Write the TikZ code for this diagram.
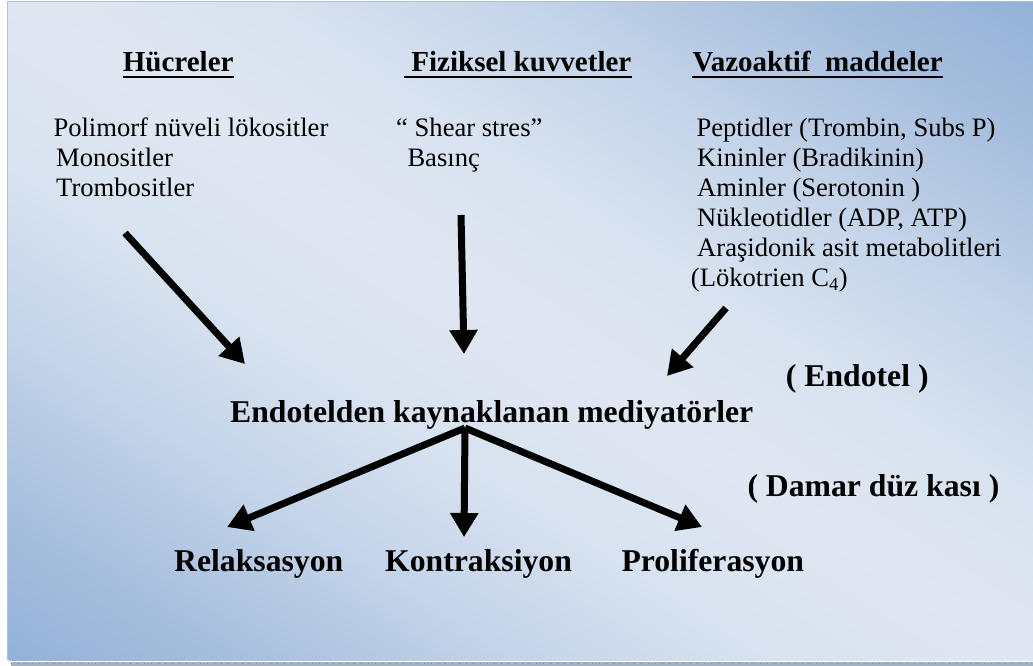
\documentclass[tikz,border=0pt]{standalone}
\usepackage{fontspec}
\setmainfont{Liberation Serif}
\usetikzlibrary{arrows.meta}
\definecolor{pA}{HTML}{93B1D7}
\definecolor{pB}{HTML}{A9C0DE}
\definecolor{pC}{HTML}{C4D4E9}
\definecolor{pD}{HTML}{D8E2F0}
\definecolor{pE}{HTML}{DFE7F2}
\definecolor{panelblue}{HTML}{93B1D7}
\definecolor{stripgray}{HTML}{A3B1C4}
\definecolor{stripdark}{HTML}{7D8CA3}
\pgfdeclareverticalshading{panelshade}{100bp}{%
  color(0bp)=(pA); color(25bp)=(pA); color(31.25bp)=(pB); color(37.5bp)=(pC);
  color(43.75bp)=(pD); color(50bp)=(pE); color(56.25bp)=(pD); color(62.5bp)=(pC);
  color(68.75bp)=(pB); color(75bp)=(pA); color(100bp)=(pA)}
\tikzset{
  txt/.style={inner sep=0pt, anchor=base west, font=\fontsize{26.6}{30}\selectfont},
  head/.style={inner sep=0pt, anchor=base west, font=\fontsize{29}{33}\selectfont\bfseries},
  big/.style={inner sep=0pt, anchor=base west, font=\fontsize{31.7}{36}\selectfont\bfseries},
  ul/.style={line width=2.2pt},
  fat/.style={line width=7pt, -{Triangle[width=27pt,length=24pt]}}
}
\begin{document}
\begin{tikzpicture}[x=1pt,y=-1pt]
\useasboundingbox (0,0) rectangle (1033,666);
\fill[white] (0,0) rectangle (1033,666);
% panel background: diagonal gradient, blue at top-right and bottom-left corners
\begin{scope}
  \clip (7,1.5) rectangle (1033,660);
  \begin{scope}[transform canvas={shift={(520,330.75)}, rotate=-32.8}]
    \shade[shading=panelshade] (-800,-554) rectangle (800,554);
  \end{scope}
\end{scope}
\draw[line width=0.8pt, color=panelblue!80] (7,1.5) -- (7,660);
\draw[line width=0.8pt, color=panelblue!80] (7,1.5) -- (1033,1.5);
% bottom strip
\fill[stripgray] (11,661.5) rectangle (1033,666);
\draw[stripdark, line width=0.8pt, dash pattern=on 1pt off 6pt] (11,663.5) -- (1033,663.5);

% headings
\node[head] (h1) at (122.7,71.7) {Hücreler};
\node[head] (h2) at (404,71.7) {\ Fiziksel kuvvetler};
\node[head] (h3) at (692.3,71.7) {Vazoaktif\ \ maddeler};
\draw[ul] ([yshift=-5.6pt]h1.base west) -- ([yshift=-5.6pt]h1.base east);
\draw[ul] ([yshift=-5.6pt]h2.base west) -- ([yshift=-5.6pt]h2.base east);
\draw[ul] ([yshift=-5.6pt]h3.base west) -- ([yshift=-5.6pt]h3.base east);

% left column
\node[txt] (c1) at (53.3,136) {Polimorf nüveli lökositler};
\node[txt] (c2) at (56,166.3) {Monositler};
\node[txt] (c3) at (56,196.5) {Trombositler};

% middle column
\node[txt] (f1) at (396,136) {“ Shear stres”};
\node[txt] (f2) at (407.3,166.3) {Basınç};

% right column
\node[txt] (v1) at (696.3,136) {Peptidler (Trombin, Subs P)};
\node[txt] (v2) at (697,166.3) {Kininler (Bradikinin)};
\node[txt] (v3) at (697,196.5) {Aminler (Serotonin )};
\node[txt] (v4) at (697,226.5) {Nükleotidler (ADP, ATP)};
\node[txt] (v5) at (697,256.5) {Araşidonik asit metabolitleri};
\node[txt] (v6) at (690.7,286.5) {(Lökotrien C\textsubscript{4})};

% center
\node[big] (m) at (230,422.7) {Endotelden kaynaklanan mediyatörler};
\node[big] (e) at (785.7,386.7) {( Endotel )};
\node[big] (d) at (747.3,496.7) {( Damar düz kası )};

% outcomes
\node[big] (r) at (174,571.7) {Relaksasyon};
\node[big] (k) at (385,571.7) {Kontraksiyon};
\node[big] (p) at (621.3,571.7) {Proliferasyon};

% arrow coordinates
\coordinate (a1s) at (125,233);
\coordinate (a1e) at (245,364);
\coordinate (a2s) at (461,215);
\coordinate (a2e) at (464,354);
\coordinate (a3s) at (726,308);
\coordinate (a3e) at (667,376);
\coordinate (hub) at (465,428);
\coordinate (b1e) at (227,527);
\coordinate (b2e) at (464,537);
\coordinate (b3e) at (702,527);

\draw[fat] (a1s) -- (a1e);
\draw[fat] (a2s) -- (a2e);
\draw[fat] (a3s) -- (a3e);
\draw[fat] (hub) -- (b1e);
\draw[fat] (hub) -- (b2e);
\draw[fat] (hub) -- (b3e);
\end{tikzpicture}
\end{document}
